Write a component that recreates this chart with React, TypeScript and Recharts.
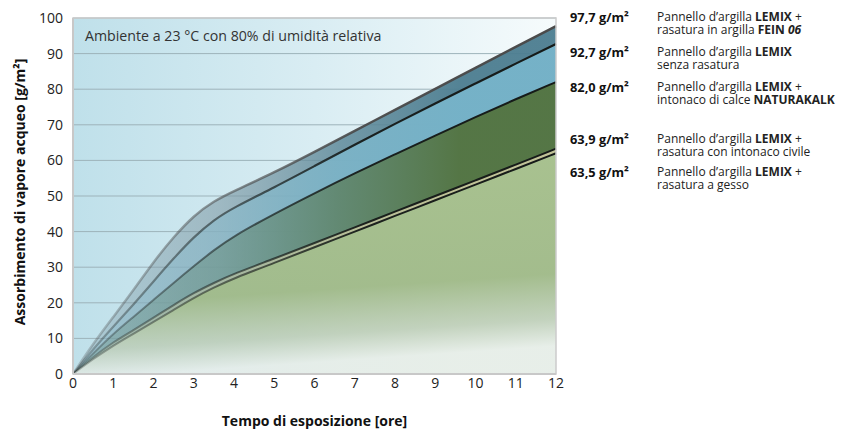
import React from "react";
import {
  AreaChart,
  Area,
  XAxis,
  YAxis,
  CartesianGrid,
  ReferenceArea,
} from "recharts";

// hours of exposure and water vapour absorbed [g/m²]
const hours = [0, 0.5, 1, 1.5, 2, 2.5, 3, 3.5, 4, 5, 6, 7, 8, 9, 10, 11, 12];
const fein06 = [0, 8.5, 16, 23.5, 31.5, 38.5, 44.5, 48.6, 51.4, 56.6, 62.4, 68.3, 74.2, 80.1, 86, 91.9, 97.7];
const senzaRasatura = [0, 7, 13.3, 19.5, 26, 32.5, 38.5, 43.3, 46.8, 52.4, 58.4, 64.4, 70.3, 76, 81.6, 87.2, 92.7];
const naturakalk = [0, 5.8, 11.3, 16, 20.8, 25.6, 30.3, 34.8, 38.8, 45, 50.8, 56.4, 61.7, 67, 72.2, 77.2, 82];
const intonacoCivile = [0, 4.8, 9, 12.3, 15.8, 19.4, 22.8, 25.6, 28.2, 32.4, 36.8, 41.2, 45.6, 50, 54.4, 58.8, 63.3];
const gesso = [0, 4.2, 8, 11.3, 14.6, 18, 21.4, 24.3, 26.9, 31.2, 35.6, 40, 44.4, 48.8, 53.2, 57.6, 62];

const xTicks = [0, 1, 2, 3, 4, 5, 6, 7, 8, 9, 10, 11, 12];
const yTicks = [0, 10, 20, 30, 40, 50, 60, 70, 80, 90, 100];

const data = hours.map((h, i) => ({
  h,
  fein06: fein06[i],
  senzaRasatura: senzaRasatura[i],
  naturakalk: naturakalk[i],
  intonacoCivile: intonacoCivile[i],
  gesso: gesso[i],
}));

const FONT = "'Open Sans', 'Noto Sans', sans-serif";

const legend = [
  { value: "97,7 g/m²", y: 22, l1: [["Pannello d’argilla ", ""], ["LEMIX", "b"], [" +", ""]], l2: [["rasatura in argilla ", ""], ["FEIN ", "b"], ["06", "bi"]] },
  { value: "92,7 g/m²", y: 56.5, l1: [["Pannello d’argilla ", ""], ["LEMIX", "b"]], l2: [["senza rasatura", ""]] },
  { value: "82,0 g/m²", y: 91.5, l1: [["Pannello d’argilla ", ""], ["LEMIX", "b"], [" +", ""]], l2: [["intonaco di calce ", ""], ["NATURAKALK", "b"]] },
  { value: "63,9 g/m²", y: 144, l1: [["Pannello d’argilla ", ""], ["LEMIX", "b"], [" +", ""]], l2: [["rasatura con intonaco civile", ""]] },
  { value: "63,5 g/m²", y: 177, l1: [["Pannello d’argilla ", ""], ["LEMIX", "b"], [" +", ""]], l2: [["rasatura a gesso", ""]] },
];

function Spans({ parts, x, dy }: { parts: string[][]; x: number; dy: number }) {
  return (
    <>
      {parts.map(([t, s], i) => (
        <tspan
          key={i}
          x={i === 0 ? x : undefined}
          dy={i === 0 ? dy : undefined}
          fontWeight={s.includes("b") ? 700 : 400}
          fontStyle={s.includes("i") ? "italic" : "normal"}
        >
          {t}
        </tspan>
      ))}
    </>
  );
}

function fade(id: string, left: string, mid: string, right: string) {
  return (
    <linearGradient id={id} x1="0" y1="0" x2="1" y2="0">
      <stop offset="0%" stopColor={left} stopOpacity={0.3} />
      <stop offset="30%" stopColor={left} stopOpacity={0.6} />
      <stop offset="55%" stopColor={mid} stopOpacity={0.85} />
      <stop offset="80%" stopColor={right} stopOpacity={0.95} />
      <stop offset="100%" stopColor={right} stopOpacity={0.95} />
    </linearGradient>
  );
}

function lineFade(id: string, color: string) {
  return (
    <linearGradient id={id} x1="0" y1="0" x2="1" y2="0">
      <stop offset="0%" stopColor={color} stopOpacity={0.25} />
      <stop offset="35%" stopColor={color} stopOpacity={0.6} />
      <stop offset="60%" stopColor={color} stopOpacity={0.95} />
      <stop offset="100%" stopColor={color} stopOpacity={1} />
    </linearGradient>
  );
}

export default function App() {
  return (
    <div style={{ position: "absolute", left: 0, top: 0, width: 849, height: 432, background: "#fff" }}>
      <AreaChart
        width={849}
        height={432}
        data={data}
        margin={{ top: 18, right: 293, bottom: 0, left: 0 }}
      >
        <defs>
          <linearGradient id="bg" x1="0" y1="0" x2="1" y2="0">
            <stop offset="0%" stopColor="#bfe0ea" />
            <stop offset="50%" stopColor="#d9edf3" />
            <stop offset="100%" stopColor="#f6fbfc" />
          </linearGradient>
          {fade("fFein", "#7f9aa5", "#5f8a9a", "#4c7d90")}
          {fade("fSenza", "#88b9ca", "#7db6ca", "#77b4ca")}
          {fade("fKalk", "#6a9184", "#5e8264", "#53733f")}
          {fade("fCivile", "#c2c7a6", "#c4c7a0", "#c6c79c")}
          <linearGradient id="fGesso" x1="0" y1="0" x2="0.15" y2="1">
            <stop offset="0%" stopColor="#a9c390" stopOpacity={0.97} />
            <stop offset="68%" stopColor="#a1bc8c" stopOpacity={0.93} />
            <stop offset="88%" stopColor="#c3d5c4" stopOpacity={0.85} />
            <stop offset="100%" stopColor="#eef6f7" stopOpacity={0.85} />
          </linearGradient>
          {lineFade("sGrey", "#4a4a4a")}
          {lineFade("sDark", "#151a18")}
        </defs>
        <CartesianGrid
          horizontal
          vertical={false}
          fill="url(#bg)"
          stroke="#9db3ba"
          strokeWidth={1}
        />
        <XAxis
          dataKey="h"
          type="number"
          domain={[0, 12]}
          ticks={xTicks}
          height={58}
          tickLine={false}
          tickSize={4}
          tickMargin={0}
          axisLine={{ stroke: "#c8c8c8", strokeWidth: 2 }}
          tick={{ fill: "#222", fontSize: 14, fontFamily: FONT }}
        />
        <YAxis
          type="number"
          domain={[0, 100]}
          ticks={yTicks}
          width={73}
          tickLine={false}
          tickSize={10}
          tickMargin={0}
          axisLine={{ stroke: "#c8c8c8", strokeWidth: 2 }}
          tick={{ fill: "#222", fontSize: 14, fontFamily: FONT }}
        />
        <Area
          type="basis"
          dataKey="fein06"
          fill="url(#fFein)"
          fillOpacity={1}
          stroke="url(#sGrey)"
          strokeWidth={2.5}
          isAnimationActive={false}
        />
        <Area
          type="basis"
          dataKey="senzaRasatura"
          fill="url(#fSenza)"
          fillOpacity={1}
          stroke="url(#sDark)"
          strokeWidth={2.2}
          isAnimationActive={false}
        />
        <Area
          type="basis"
          dataKey="naturakalk"
          fill="url(#fKalk)"
          fillOpacity={1}
          stroke="url(#sDark)"
          strokeWidth={2}
          isAnimationActive={false}
        />
        <Area
          type="basis"
          dataKey="intonacoCivile"
          fill="url(#fCivile)"
          fillOpacity={1}
          stroke="url(#sDark)"
          strokeWidth={2}
          isAnimationActive={false}
        />
        <Area
          type="basis"
          dataKey="gesso"
          fill="url(#fGesso)"
          fillOpacity={1}
          stroke="url(#sDark)"
          strokeWidth={2}
          isAnimationActive={false}
        />
        <ReferenceArea
          x1={0}
          x2={12}
          y1={0}
          y2={100}
          fill="none"
          stroke="#cccccc"
          strokeWidth={1.5}
        />
      </AreaChart>
      <svg
        width={849}
        height={432}
        style={{ position: "absolute", left: 0, top: 0, pointerEvents: "none" }}
        fontFamily={FONT}
      >
        <text x={85} y={41} fontSize={14.2} fill="#333">
          Ambiente a 23 °C con 80% di umidità relativa
        </text>
        <text
          x={314.5}
          y={426}
          fontSize={14}
          fontWeight={700}
          fill="#111"
          textAnchor="middle"
        >
          Tempo di esposizione [ore]
        </text>
        <text
          transform="translate(25,192) rotate(-90)"
          fontSize={14}
          fontWeight={700}
          fill="#111"
          textAnchor="middle"
        >
          Assorbimento di vapore acqueo [g/m²]
        </text>
        {legend.map((r) => (
          <g key={r.value}>
            <text x={570} y={r.y} fontSize={12.8} fontWeight={700} fill="#111">
              {r.value}
            </text>
            <text x={657} y={r.y - 1} fontSize={12} fill="#222">
              <Spans parts={r.l1} x={657} dy={0} />
              <Spans parts={r.l2} x={657} dy={13} />
            </text>
          </g>
        ))}
      </svg>
    </div>
  );
}
